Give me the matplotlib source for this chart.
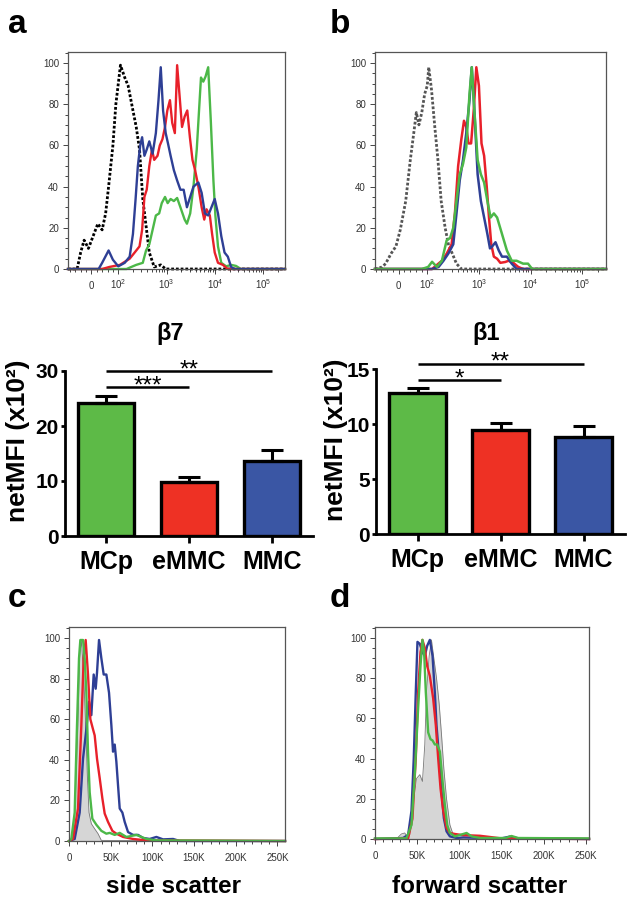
import numpy as np
import matplotlib
matplotlib.use("Agg")
import matplotlib.pyplot as plt
from matplotlib.ticker import FixedLocator, MultipleLocator, NullFormatter

plt.rcParams['font.family'] = ['Liberation Sans', 'DejaVu Sans']
plt.rcParams['mathtext.fontset'] = 'custom'
plt.rcParams['mathtext.rm'] = 'Liberation Sans'
plt.rcParams['mathtext.it'] = 'Liberation Sans:italic'
plt.rcParams['mathtext.bf'] = 'Liberation Sans:bold'

W, H = 638, 905

# --- colours ---
GREEN_H, RED_H, BLUE_H = '#4cb848', '#e8202a', '#2e3f95'
BAR_COLORS = ['#5dba47', '#ee3124', '#3a56a4']

# --- panel a: beta7 staining (fluorescence value, % of max) ---
a_iso_x = [-87, -53, -40, -27, -11, 24, 40, 53, 64, 80, 91, 111, 136, 160, 201, 235, 275, 321, 375, 438, 553, 755, 955, 279000]
a_iso_y = [0, 0, 8, 14, 10, 22, 19, 27, 40, 60, 80, 99, 93, 89, 77, 69, 58, 34, 21, 8, 1, 2, 0, 0]
a_green_x = [-87, 148, 186, 235, 321, 375, 438, 512, 598, 700, 792, 925, 1048, 1206, 1409, 1646, 1922, 2353, 2624, 3065,
             3580, 4187, 4667, 5121, 5710, 6370, 7217, 8170, 9250, 10160, 11500, 13440, 16980, 21450, 27060, 34200, 279000]
a_green_y = [0, 0, 1, 2, 3, 9, 12, 19, 26, 27, 32, 35, 32, 34, 33, 34.5, 30, 24, 22, 27,
             40, 58, 77, 93, 91, 93.5, 98, 72, 43, 26, 11, 3, 1.3, 2, 1.5, 0, 0]
a_red_x = [-87, 40, 67, 108, 172, 218, 275, 311, 347, 387, 438, 497, 553, 647, 721, 817, 925, 1032, 1169, 1303, 1476, 1646,
           1836, 2078, 2353, 2666, 3020, 3417, 3872, 4522, 5283, 5981, 6675, 7803, 8693, 9846, 11500, 14530, 18360, 279000]
a_red_y = [0, 0, 1, 2, 5, 8, 11, 19, 35, 38.5, 50, 58, 53, 55, 60, 63, 69, 77, 82, 71, 66, 99,
           85, 69, 74, 77, 64, 53, 48, 40, 30, 24, 29, 26, 17, 8, 3, 2, 0, 0]
a_blue_x = [-87, 27, 40, 64, 80, 100, 136, 172, 201, 228, 254, 284, 311, 347, 387, 438, 512, 598, 678, 755, 843, 955, 1065,
            1206, 1409, 1646, 1922, 2246, 2624, 3065, 3580, 4522, 5283, 6175, 7217, 8433, 9846, 11500, 13440, 15710,
            18360, 21450, 25060, 279000]
a_blue_y = [0, 0, 3, 9, 4.5, 1.3, 3, 6, 17, 34, 50, 60, 64, 55, 58, 62, 56, 66, 82, 98, 77, 66, 61,
            55, 48, 43, 38.5, 38.5, 30, 35, 40, 42, 37, 27, 26, 30, 34, 27, 16, 8,
            6, 1, 0, 0]

# --- panel b: beta1 staining ---
b_iso_x = [-82, -57, -45, -26, -9, 6, 25, 41, 53, 62, 71, 81, 91, 100, 107, 121, 140, 161, 186, 222, 257, 305, 368, 458, 288000]
b_iso_y = [0, 1, 2.6, 7.5, 11, 19, 33, 53, 66, 76, 70, 76, 85, 89, 98, 87, 69, 53, 33, 20, 12, 7.5, 2.6, 0, 0]
b_red_x = [-82, 124, 154, 192, 238, 296, 343, 396, 457, 514, 569, 629, 706, 793, 891, 1000, 1122, 1261, 1416, 1567,
           1734, 1946, 2250, 2600, 3230, 3735, 4640, 5770, 7170, 288000]
b_red_y = [0, 0, 2, 4, 7.5, 12, 27, 50, 63, 72, 69, 61, 61, 77, 98, 89, 61, 55, 40, 25,
           12, 6, 5, 3, 3.4, 4, 3, 1, 0, 0]
b_blue_x = [-82, 124, 166, 206, 256, 319, 368, 425, 492, 569, 657, 727, 817, 944, 1091, 1261, 1458, 1637, 1811, 2094,
            2420, 2797, 3475, 4315, 5370, 288000]
b_blue_y = [0, 0, 1, 4, 7.5, 12, 27, 43, 53, 66, 82, 98, 77, 46, 33, 25, 17, 10, 11, 13,
            9, 6, 6, 2.6, 0, 0]
b_green_x = [-82, 81, 104, 124, 154, 192, 238, 276, 319, 368, 425, 492, 569, 657, 727, 817, 944, 1091, 1261, 1458,
             1684, 1946, 2250, 2797, 3475, 4315, 5370, 7170, 8910, 10740, 288000]
b_green_y = [0, 0, 1, 3.5, 1, 4, 14, 15, 20, 33, 46, 51, 59, 85, 98, 77, 53, 46, 42, 33,
             25, 27, 25, 17, 9, 4, 4, 2.6, 2.6, 0, 0]

# --- bar charts: net MFI (x10^2) ---
groups = ['MCp', 'eMMC', 'MMC']
b7_mean = [24.2, 9.8, 13.7]
b7_sem = [1.3, 0.9, 2.0]
b1_mean = [12.8, 9.5, 8.8]
b1_sem = [0.5, 0.6, 1.0]
b7_sig = [('***', 0, 1, 27.0), ('**', 0, 2, 30.0)]
b1_sig = [('*', 0, 1, 14.0), ('**', 0, 2, 15.5)]

# --- panel c: side scatter (K) ---
c_ctrl_x = [0, 4.8, 8, 10.8, 12.8, 14.8, 17.6, 20, 22, 24, 26.8, 30.8, 34.8, 38.8, 259]
c_ctrl_y = [0, 1, 24, 57, 90, 99, 82, 57, 32, 14, 8.5, 6, 3.6, 0.3, 0]
c_blue_x = [0, 6.8, 12.8, 16.8, 20.8, 24, 26.8, 29.6, 32, 33.6, 36, 38.8, 41.6, 44.8, 48, 50.8, 52.8, 54.8, 56.8, 58.8,
            60.8, 64, 66.8, 70.8, 76.8, 82.8, 88.8, 96.8, 104.8, 112.8, 124.8, 132.8, 259]
c_blue_y = [0, 1, 14, 40.5, 55, 68.6, 62, 82, 75, 83, 99, 90, 82, 82, 73, 57, 44, 47.5, 39, 27.4,
            16, 14, 9.4, 4.4, 3, 3, 1.5, 1, 2, 0.8, 1, 0, 0]
c_red_x = [0, 4.8, 10.8, 14.8, 17.6, 20, 22.8, 25.6, 28.8, 30.8, 33.6, 36.8, 40, 42.8, 46.8, 52, 56.8, 64.8, 76.8, 92.8, 259]
c_red_y = [0, 1, 16, 57, 90, 99, 82, 60, 55, 52, 40.5, 31, 21, 13.5, 9.4, 5, 3.6, 2, 1, 0.3, 0]
c_green_x = [0, 2.8, 6.8, 9.6, 12, 13.6, 16.8, 18.8, 20.8, 22.8, 24.8, 28, 32.8, 38.8, 44.8, 48.8, 54.8, 60.8, 68.8,
             80.8, 92.8, 104.8, 259]
c_green_y = [0, 1, 14, 57, 90, 99, 99, 90, 73, 44, 24, 11, 8, 5, 3.6, 4, 3, 4, 2, 3, 1, 0.3, 0]

# --- panel d: forward scatter (K) ---
d_ctrl_x = [0, 25.4, 31.3, 35.3, 38, 41.3, 45.2, 49.2, 53.2, 56.3, 59.1, 61.1, 64.3, 67, 69.8, 73, 76.2, 79, 81.7,
            84.9, 88.9, 92.9, 98.8, 254]
d_ctrl_y = [0, 0, 2.5, 3, 1.3, 2, 17, 30, 32, 28.6, 47, 73, 91, 99, 90, 80, 67, 51.5, 35, 20, 7, 2, 0, 0]
d_blue_x = [0, 33.3, 39.3, 43.3, 46, 48.4, 50.4, 53.2, 56, 59.1, 61.9, 65.1, 68.3, 71, 73, 76.2, 79, 81.7, 84.9, 88.9,
            96.8, 104.8, 150, 160, 170, 254]
d_blue_y = [0, 0.5, 2, 14, 40, 73, 98, 97, 93, 91, 96, 99, 91, 73, 56.5, 40, 23.6, 10.4, 3.8, 1.3,
            0.5, 0.8, 0.3, 1.2, 0.3, 0]
d_red_x = [0, 39.3, 44.4, 48.4, 51.2, 54, 56.3, 59.1, 61.9, 65.1, 69, 72.2, 75, 77.8, 81, 84.9, 88.9, 94.8, 102.8,
           112.7, 124.6, 136.5, 150, 254]
d_red_y = [0, 0.3, 10, 40, 73, 93, 99, 95, 86, 81, 70, 56.5, 40, 25, 14, 5.5, 3, 2.5, 2, 1.8, 1.6, 1, 0.3, 0]
d_green_x = [0, 37.3, 43.3, 47.2, 51.2, 54, 56.3, 58.3, 60.3, 63.1, 65.9, 68.3, 71, 73.8, 77, 80.2, 82.9, 85.7, 88.9,
             94.8, 100.8, 108.7, 114.7, 124.6, 155, 162, 170, 254]
d_green_y = [0.3, 0.3, 7, 32, 65, 86, 99, 93, 73, 53, 49.6, 49, 47, 47, 43.5, 28.6, 17, 7, 3, 1.3,
             2, 3, 1.3, 0.5, 0.5, 1.5, 0.5, 0.3]


def box(x0, y0, x1, y1):
    return [x0 / W, 1 - y1 / H, (x1 - x0) / W, (y1 - y0) / H]


def style_hist(ax, xlim, logicle):
    if logicle:
        ax.set_xscale('symlog', linthresh=100, linscale=0.5)
        ax.set_xticks([0, 1e2, 1e3, 1e4, 1e5])
        ax.set_xticklabels(['0', '$10^2$', '$10^3$', '$10^4$', '$10^5$'])
        minor = [-80, -60, -40, -20, 20, 40, 60, 80] + [m * 10 ** e for e in (2, 3, 4, 5) for m in range(2, 10)]
        ax.xaxis.set_minor_locator(FixedLocator([m for m in minor if xlim[0] < m < xlim[1]]))
    else:
        ax.set_xticks([0, 50, 100, 150, 200, 250])
        ax.set_xticklabels(['0', '50K', '100K', '150K', '200K', '250K'])
        ax.xaxis.set_minor_locator(MultipleLocator(10))
    ax.xaxis.set_minor_formatter(NullFormatter())
    ax.set_xlim(*xlim)
    ax.set_ylim(0, 105.4)
    ax.set_yticks([0, 20, 40, 60, 80, 100])
    ax.yaxis.set_minor_locator(MultipleLocator(5))
    ax.tick_params(which='both', direction='out', color='#444444', labelcolor='#333333',
                   labelsize=7, width=0.7, top=False, right=False)
    ax.tick_params(which='major', length=3.5)
    ax.tick_params(which='minor', length=2)
    ax.tick_params(axis='y', pad=3)
    ax.tick_params(axis='x', pad=10.9)
    for t in ax.xaxis.get_major_ticks():
        t.label1.set_va('baseline')
    for s in ax.spines.values():
        s.set_color('#555555')
        s.set_linewidth(0.9)


def bar_panel(ax, means, sems, ymax, yticks, sigs):
    x = np.arange(len(groups))
    ax.bar(x, means, width=0.68, color=BAR_COLORS, edgecolor='black', linewidth=2.4, zorder=2)
    ax.errorbar(x, means, yerr=[np.zeros(len(means)), sems], fmt='none', ecolor='black',
                elinewidth=2.2, capsize=8, capthick=2.2, zorder=3)
    for label, i0, i1, y in sigs:
        ax.plot([x[i0], x[i1]], [y, y], color='black', lw=1.8, clip_on=False, solid_capstyle='butt')
        ax.annotate(label, ((x[i0] + x[i1]) / 2, y), xytext=(0, -3.8), textcoords='offset points',
                    ha='center', va='baseline', fontsize=17.5, annotation_clip=False)
    ax.set_ylim(0, ymax)
    ax.set_xlim(-0.5, 2.5)
    ax.set_yticks(yticks)
    ax.set_xticks(x)
    ax.set_xticklabels(groups, fontsize=18, fontweight='bold')
    for t in ax.get_yticklabels():
        t.set_fontsize(15)
        t.set_fontweight('bold')
    ax.tick_params(axis='y', direction='out', length=3, width=2, pad=1.5)
    ax.tick_params(axis='x', direction='out', length=5, width=2, pad=5)
    for s in ('top', 'right'):
        ax.spines[s].set_visible(False)
    for s in ('left', 'bottom'):
        ax.spines[s].set_linewidth(2)
    ax.set_ylabel('netMFI (x10²)', fontsize=19, fontweight='bold')


fig = plt.figure(figsize=(W / 100, H / 100), dpi=100)

# a
ax_a = fig.add_axes(box(68, 52, 285, 269))
ax_a.plot(a_iso_x, a_iso_y, color='black', lw=2, ls=(0, (1, 0.7)), clip_on=False)
ax_a.plot(a_green_x, a_green_y, color=GREEN_H, lw=1.7, clip_on=False)
ax_a.plot(a_red_x, a_red_y, color=RED_H, lw=1.7, clip_on=False)
ax_a.plot(a_blue_x, a_blue_y, color=BLUE_H, lw=1.7, clip_on=False)
style_hist(ax_a, (-87, 279000), True)

# b
ax_b = fig.add_axes(box(375, 52, 606, 269))
ax_b.plot(b_iso_x, b_iso_y, color='#555555', lw=2, ls=(0, (1, 0.7)), clip_on=False)
ax_b.plot(b_red_x, b_red_y, color=RED_H, lw=1.8, clip_on=False)
ax_b.plot(b_blue_x, b_blue_y, color=BLUE_H, lw=1.8, clip_on=False)
ax_b.plot(b_green_x, b_green_y, color=GREEN_H, lw=1.8, clip_on=False)
style_hist(ax_b, (-82, 288000), True)

# bar charts
bar_a = fig.add_axes(box(65, 371, 313, 536))
bar_panel(bar_a, b7_mean, b7_sem, 30, [0, 10, 20, 30], b7_sig)
bar_a.yaxis.set_label_coords(-0.141, 0.58)
bar_b = fig.add_axes(box(376, 369, 625, 534))
bar_panel(bar_b, b1_mean, b1_sem, 15, [0, 5, 10, 15], b1_sig)
bar_b.yaxis.set_label_coords(-0.112, 0.57)

# c
ax_c = fig.add_axes(box(69, 627, 285, 841))
ax_c.fill_between(c_ctrl_x, c_ctrl_y, color='#d6d6d6', lw=0)
ax_c.plot(c_ctrl_x, c_ctrl_y, color='#777777', lw=0.6)
ax_c.plot(c_blue_x, c_blue_y, color=BLUE_H, lw=1.7, clip_on=False)
ax_c.plot(c_red_x, c_red_y, color=RED_H, lw=1.7, clip_on=False)
ax_c.plot(c_green_x, c_green_y, color=GREEN_H, lw=1.7, clip_on=False)
style_hist(ax_c, (0, 259), False)

# d
ax_d = fig.add_axes(box(375, 627, 589, 839))
ax_d.fill_between(d_ctrl_x, d_ctrl_y, color='#d6d6d6', lw=0)
ax_d.plot(d_ctrl_x, d_ctrl_y, color='#777777', lw=0.6)
ax_d.plot(d_blue_x, d_blue_y, color=BLUE_H, lw=1.7, clip_on=False)
ax_d.plot(d_red_x, d_red_y, color=RED_H, lw=1.7, clip_on=False)
ax_d.plot(d_green_x, d_green_y, color=GREEN_H, lw=1.7, clip_on=False)
style_hist(ax_d, (0, 254), False)

# titles, axis captions and panel letters
fig.text(170 / W, 1 - 340 / H, 'β7', ha='center', va='baseline', fontsize=17, fontweight='bold')
fig.text(486 / W, 1 - 340 / H, 'β1', ha='center', va='baseline', fontsize=17, fontweight='bold')
fig.text(173 / W, 1 - 893 / H, 'side scatter', ha='center', va='baseline', fontsize=17.5, fontweight='bold')
fig.text(480 / W, 1 - 893 / H, 'forward scatter', ha='center', va='baseline', fontsize=17.5, fontweight='bold')
for letter, px, py in [('a', 8, 33), ('b', 330, 33), ('c', 8, 607), ('d', 330, 607)]:
    fig.text(px / W, 1 - py / H, letter, ha='left', va='baseline', fontsize=24, fontweight='bold')

fig.savefig('out.png', dpi=100)
